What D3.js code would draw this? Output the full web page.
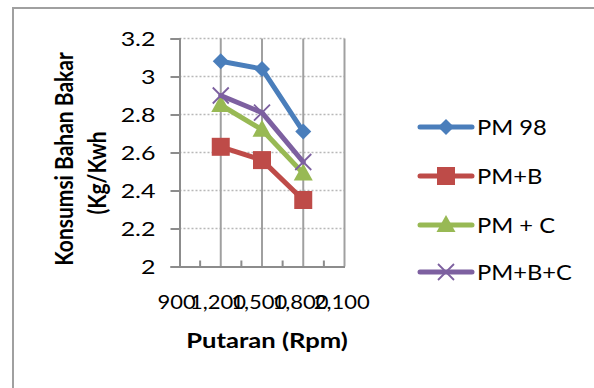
<!DOCTYPE html>
<html><head><meta charset="utf-8">
<script src="https://cdn.jsdelivr.net/npm/d3@7"></script>
<style>body{margin:0;background:#fff}svg{display:block}text{font-family:Lato,"Open Sans",sans-serif;fill:#000}</style>
</head><body>
<svg id="c" width="594" height="388"></svg>
<script>
const rpm = [1200, 1500, 1800];
const xTicks = [900, 1200, 1500, 1800, 2100];
const xMinor = [1050, 1350, 1650, 1950];
const yTicks = [2, 2.2, 2.4, 2.6, 2.8, 3, 3.2];
const seriesNames = ["PM 98", "PM+B", "PM + C", "PM+B+C"];
const pm98 = [3.08, 3.04, 2.71];
const pmB = [2.63, 2.56, 2.35];
const pmC = [2.85, 2.72, 2.49];
const pmBC = [2.90, 2.81, 2.55];
const colors = ["#4A7EBB", "#BE4B48", "#98B954", "#7D60A0"];
const markers = ["diamond", "square", "triangle", "x"];
const allVals = [pm98, pmB, pmC, pmBC];

const svg = d3.select("#c");
svg.append("rect").attr("x",13).attr("y",8).attr("width",620).attr("height",420)
  .attr("fill","none").attr("stroke","#a0a0a0").attr("stroke-width",2);

const x = d3.scaleLinear().domain([900,2100]).range([179.5,344.5]);
const y = d3.scaleLinear().domain([2,3.2]).range([266.5,38.5]);

svg.append("g").selectAll("line").data(yTicks.slice(1)).join("line")
  .attr("x1",x(900)).attr("x2",x(2100)).attr("y1",d=>y(d)).attr("y2",d=>y(d))
  .attr("stroke","#b8b8b8").attr("stroke-width",1.3).attr("stroke-dasharray","2,2");
svg.append("g").selectAll("line").data(xTicks.slice(1)).join("line")
  .attr("x1",d=>x(d)).attr("x2",d=>x(d)).attr("y1",y(3.2)).attr("y2",y(2))
  .attr("stroke","#a0a0a0").attr("stroke-width",2);
svg.append("g").selectAll("line").data(xMinor).join("line")
  .attr("x1",d=>x(d)).attr("x2",d=>x(d)).attr("y1",y(2)-6).attr("y2",y(2))
  .attr("stroke","#8c8c8c").attr("stroke-width",2);

const sx = 1.25;
const yAxis = svg.append("g").attr("transform",`translate(${x(900)},0)`)
  .call(d3.axisLeft(y).tickValues(yTicks).tickFormat(d3.format("~g")).tickSize(9));
yAxis.select(".domain").attr("stroke","#8c8c8c").attr("stroke-width",2);
yAxis.selectAll(".tick line").attr("stroke","#8c8c8c").attr("stroke-width",2);
yAxis.selectAll("text").attr("font-size",20).attr("x",-24/sx).attr("dy","0.36em")
  .attr("transform",`scale(${sx},1)`);

const xAxis = svg.append("g").attr("transform",`translate(0,${y(2)})`)
  .call(d3.axisBottom(x).tickValues(xTicks).tickFormat(d3.format(",")).tickSize(0));
xAxis.select(".domain").attr("stroke","#8c8c8c").attr("stroke-width",2);
xAxis.selectAll("text").attr("font-size",20).attr("y",43).attr("dy",0).attr("x",-3)
  .attr("transform","scale(1.1,1)");

svg.append("text").attr("transform","translate(267,348) scale(1.22,1)").attr("text-anchor","middle")
  .attr("font-weight","bold").attr("font-size",21).text("Putaran (Rpm)");
svg.append("text").attr("transform","translate(73,159) scale(1.15,1) rotate(-90)").attr("text-anchor","middle")
  .attr("font-weight","bold").attr("font-size",21).text("Konsumsi Bahan Bakar");
svg.append("text").attr("transform","translate(106,173) scale(1.15,1) rotate(-90)").attr("text-anchor","middle")
  .attr("font-weight","bold").attr("font-size",21).text("(Kg/Kwh");

function drawMarker(g, type, color){
  if(type==="diamond") g.append("path").attr("d","M0,-8L8,0L0,8L-8,0Z").attr("fill",color);
  else if(type==="square") g.append("rect").attr("x",-9).attr("y",-9).attr("width",18).attr("height",18).attr("fill",color);
  else if(type==="triangle") g.append("path").attr("d","M0,-10L9.5,7L-9.5,7Z").attr("fill",color);
  else g.append("path").attr("d","M-8,-8L8,8M-8,8L8,-8").attr("stroke",color).attr("stroke-width",1.8).attr("fill","none");
}

const line = d3.line().x(d=>x(d[0])).y(d=>y(d[1]));
allVals.forEach((vals,i)=>{
  const pts = rpm.map((r,j)=>[r,vals[j]]);
  svg.append("path").attr("d",line(pts)).attr("fill","none").attr("stroke",colors[i])
    .attr("stroke-width",5).attr("stroke-linejoin","round").attr("stroke-linecap","round");
  pts.forEach(p=>{
    const g = svg.append("g").attr("transform",`translate(${x(p[0])},${y(p[1])})`);
    drawMarker(g, markers[i], colors[i]);
  });
});

const legY = [127, 176, 225, 272];
seriesNames.forEach((n,i)=>{
  const g = svg.append("g").attr("transform",`translate(0,${legY[i]})`);
  g.append("line").attr("x1",420).attr("x2",472).attr("stroke",colors[i]).attr("stroke-width",5).attr("stroke-linecap","round");
  const m = g.append("g").attr("transform","translate(446,0)");
  drawMarker(m, markers[i], colors[i]);
  g.append("text").attr("transform","translate(477,0) scale(1.13,1)").attr("dy","0.36em").attr("font-size",21).text(n);
});
</script>
</body></html>
